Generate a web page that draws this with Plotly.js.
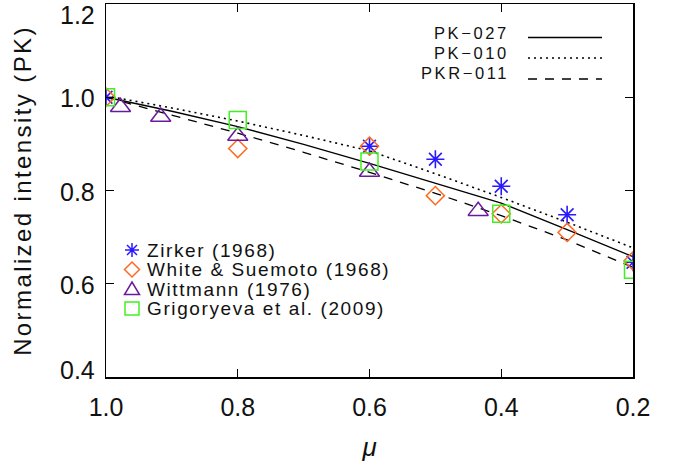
<!DOCTYPE html>
<html>
<head>
<meta charset="utf-8">
<script src="https://cdn.plot.ly/plotly-3.0.1.min.js"></script>
<style>
  html, body { margin: 0; padding: 0; background: #fff; }
  #chart { width: 679px; height: 462px; }
</style>
</head>
<body>
<div id="chart"></div>
<script>
// ---- data ----
var muModel = [1.0, 0.9, 0.8, 0.7, 0.6, 0.5, 0.4, 0.3, 0.2];
var pk027   = [1.000, 0.970, 0.937, 0.899, 0.858, 0.816, 0.773, 0.716, 0.658];
var pk010   = [1.003, 0.977, 0.949, 0.918, 0.885, 0.836, 0.785, 0.732, 0.677];
var pkr011  = [1.000, 0.962, 0.923, 0.882, 0.839, 0.794, 0.746, 0.694, 0.635];

var zirkerMu = [1.0, 0.6, 0.5, 0.4, 0.3, 0.2];
var zirkerI  = [1.000, 0.895, 0.867, 0.809, 0.748, 0.646];

var whiteMu = [1.0, 0.8, 0.6, 0.5, 0.4, 0.3, 0.2];
var whiteI  = [1.000, 0.890, 0.895, 0.789, 0.750, 0.710, 0.649];

var wittMu = [0.978, 0.917, 0.8, 0.6, 0.435];
var wittI  = [0.979, 0.958, 0.917, 0.840, 0.756];

var grigMu = [1.0, 0.8, 0.6, 0.4, 0.2];
var grigI  = [1.000, 0.951, 0.862, 0.750, 0.630];

var modelNames = ['PK−027', 'PK−010', 'PKR−011'];
var obsNames = ['Zirker (1968)', 'White &amp; Suemoto (1968)', 'Wittmann (1976)', 'Grigoryeva et al. (2009)'];

var xTickVals = [1.0, 0.8, 0.6, 0.4, 0.2];
var xTickText = ['1.0', '0.8', '0.6', '0.4', '0.2'];
var yTickVals = [0.4, 0.6, 0.8, 1.0, 1.2];
var yTickText = ['0.4', '0.6', '0.8', '1.0', '1.2'];

// ---- styles ----
var FONT = 'Liberation Sans, Arial, sans-serif';
var TXT = '#111';
var cBlue = '#2a1aff', cOrange = '#ff6a20', cPurple = '#6a1a9a', cGreen = '#40f020';
var lineDashes = ['solid', '2px,4px', '9px,8px'];

var traces = [
  {x: muModel, y: pk027, mode: 'lines', line: {color: '#000', width: 1.3, dash: lineDashes[0]}, name: modelNames[0], showlegend: false},
  {x: muModel, y: pk010, mode: 'lines', line: {color: '#000', width: 1.6, dash: lineDashes[1]}, name: modelNames[1], showlegend: false},
  {x: muModel, y: pkr011, mode: 'lines', line: {color: '#000', width: 1.3, dash: lineDashes[2]}, name: modelNames[2], showlegend: false},
  {x: zirkerMu, y: zirkerI, mode: 'markers', name: obsNames[0], showlegend: false,
   marker: {symbol: 'asterisk-open', size: 15, color: cBlue, line: {color: cBlue, width: 1.6}}},
  {x: whiteMu, y: whiteI, mode: 'markers', name: obsNames[1], showlegend: false,
   marker: {symbol: 'diamond-open', size: 14, color: cOrange, line: {color: cOrange, width: 1.5}}},
  {x: wittMu, y: wittI, mode: 'markers', name: obsNames[2], showlegend: false,
   marker: {symbol: 'triangle-up-open', size: 17.5, color: cPurple, line: {color: cPurple, width: 1.5}}},
  {x: grigMu, y: grigI, mode: 'markers', name: obsNames[3], showlegend: false,
   marker: {symbol: 'square-open', size: 17, color: cGreen, line: {color: cGreen, width: 1.5}}}
];

function px2paperX(px) { return (px - 106) / 527; }
function px2paperY(py) { return (377 - py) / 373; }

var annotations = [];
var shapes = [];

// y tick labels (end labels nudged inside the frame, as in the reference)
var nY = yTickVals.length;
yTickVals.forEach(function (v, i) {
  annotations.push({
    x: 0, xref: 'paper', xanchor: 'right', xshift: -9,
    y: v, yref: 'y', yanchor: 'middle',
    yshift: i === nY - 1 ? -11 : (i === 0 ? 7 : -1),
    text: yTickText[i], showarrow: false,
    font: {family: FONT, size: 25, color: TXT}
  });
});

// model legend (top right): label then line sample
var modelLegY = [33.3, 53.3, 73.3];
var modelLineY = [37.5, 58, 79];
modelNames.forEach(function (n, i) {
  annotations.push({
    x: px2paperX(511), xref: 'paper', xanchor: 'right',
    y: px2paperY(modelLegY[i]), yref: 'paper', yanchor: 'middle',
    text: '<span style="letter-spacing:2.6px">' + n + '</span>', showarrow: false,
    font: {family: FONT, size: 16.5, color: TXT}
  });
  shapes.push({
    type: 'line', xref: 'paper', yref: 'paper',
    x0: px2paperX(528), x1: px2paperX(602),
    y0: px2paperY(modelLineY[i]), y1: px2paperY(modelLineY[i]),
    line: {color: '#000', width: i === 1 ? 1.6 : 1.3, dash: lineDashes[i]}
  });
});

// observation legend (bottom left): key symbol then label
var obsLegY = [250, 269.5, 289, 308.5];
var obsColors = [cBlue, cOrange, cPurple, cGreen];
var obsPaths = [
  'M-7,0 L7,0 M0,-7 L0,7 M-5,-5 L5,5 M-5,5 L5,-5',
  'M0,-7.5 L7.5,0 L0,7.5 L-7.5,0 Z',
  'M-7.5,-5.5 L7.5,-5.5 L0,7 Z',
  'M-7,-6.5 L7,-6.5 L7,6.5 L-7,6.5 Z'
];
obsNames.forEach(function (n, i) {
  annotations.push({
    x: px2paperX(145), xref: 'paper', xanchor: 'left',
    y: px2paperY(obsLegY[i]), yref: 'paper', yanchor: 'middle',
    text: '<span style="letter-spacing:1.6px">' + n + '</span>', showarrow: false,
    font: {family: FONT, size: 19, color: TXT}
  });
  shapes.push({
    type: 'path', xref: 'paper', yref: 'paper',
    xsizemode: 'pixel', ysizemode: 'pixel',
    xanchor: px2paperX(132), yanchor: px2paperY(obsLegY[i]),
    path: obsPaths[i],
    line: {color: obsColors[i], width: 1.5}
  });
});

var layout = {
  width: 679, height: 462,
  margin: {l: 106, r: 46, t: 4, b: 85, pad: 0},
  paper_bgcolor: '#fff', plot_bgcolor: '#fff',
  showlegend: false,
  font: {family: FONT, color: TXT},
  xaxis: {
    range: [1.0, 0.2], tickvals: xTickVals, ticktext: xTickText,
    ticks: 'inside', ticklen: 8, tickwidth: 1.3, tickcolor: '#000',
    showline: true, linewidth: 1.5, linecolor: '#000', mirror: 'ticks',
    showgrid: false, zeroline: false,
    tickfont: {family: FONT, size: 25, color: TXT},
    ticklabelstandoff: 7,
    title: {text: 'μ', font: {family: FONT, size: 26, style: 'italic', color: TXT}, standoff: 20}
  },
  yaxis: {
    range: [0.4, 1.2], tickvals: yTickVals, ticktext: yTickText,
    ticks: 'inside', ticklen: 8, tickwidth: 1.3, tickcolor: '#000',
    showline: true, linewidth: 1.5, linecolor: '#000', mirror: 'ticks',
    showgrid: false, zeroline: false, showticklabels: false,
    title: {text: '<span style="letter-spacing:2.4px">Normalized intensity (PK)</span>',
            font: {family: FONT, size: 24, color: TXT}, standoff: 66}
  },
  annotations: annotations,
  shapes: shapes
};

Plotly.newPlot('chart', traces, layout, {displayModeBar: false, staticPlot: true});
</script>
</body>
</html>
